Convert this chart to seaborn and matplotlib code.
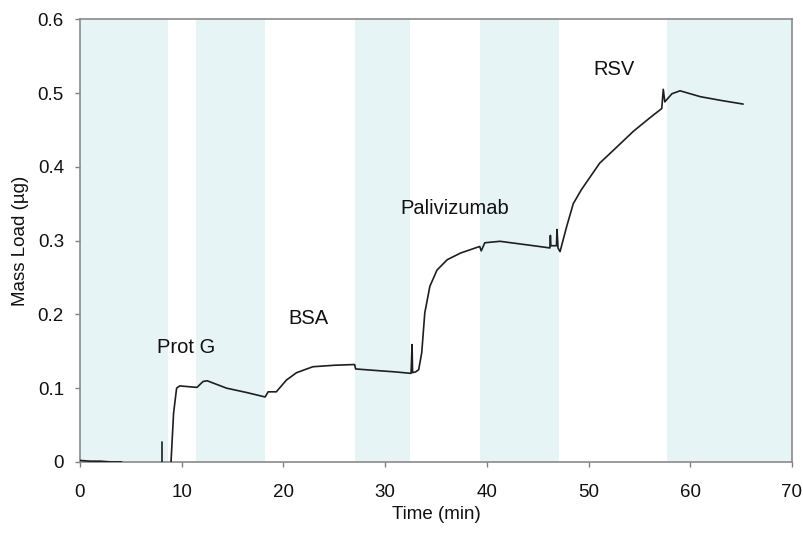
import matplotlib
matplotlib.use("Agg")
import matplotlib.pyplot as plt
import seaborn as sns
import pandas as pd

# --- data ---
base_x = [0.0, 1.0, 2.0, 3.0, 4.1]
base_y = [0.002, 0.001, 0.001, 0.0, 0.0]

spike_x = [8.1, 8.1]
spike_y = [0.0, 0.027]

main_x = [8.95, 9.2, 9.5, 9.8, 11.5, 12.1, 12.5, 14.4, 16.4, 18.2, 18.5, 19.3, 20.3,
          21.3, 22.9, 25.0, 27.0, 27.1, 29.0, 31.0, 32.55, 32.65, 32.7, 33.0, 33.3,
          33.6, 33.9, 34.4, 35.1, 36.1, 37.4, 39.3, 39.45, 39.8, 41.3, 44.6, 46.2,
          46.25, 46.3, 46.85, 46.9, 47.0, 47.2, 47.85, 48.5, 49.3, 51.1, 52.8, 54.4,
          56.0, 57.2, 57.35, 57.5, 58.2, 59.0, 61.0, 63.0, 65.2]
main_y = [0.0, 0.066, 0.100, 0.103, 0.101, 0.109, 0.110, 0.100, 0.094, 0.088, 0.095, 0.095, 0.111,
          0.121, 0.129, 0.131, 0.132, 0.126, 0.124, 0.122, 0.120, 0.159, 0.121, 0.122, 0.125,
          0.148, 0.202, 0.238, 0.260, 0.274, 0.283, 0.292, 0.286, 0.297, 0.299, 0.293, 0.290,
          0.307, 0.293, 0.293, 0.315, 0.290, 0.285, 0.319, 0.350, 0.369, 0.405, 0.427, 0.448,
          0.466, 0.479, 0.505, 0.488, 0.499, 0.503, 0.495, 0.490, 0.485]

band_starts = [0.0, 11.4, 27.0, 39.3, 57.7]
band_ends = [8.7, 18.2, 32.4, 47.1, 70.0]

labels = ["Prot G", "BSA", "Palivizumab", "RSV"]
label_x = [10.4, 22.5, 36.8, 52.5]
label_y = [0.155, 0.195, 0.344, 0.532]

x_ticks = [0, 10, 20, 30, 40, 50, 60, 70]
y_ticks = [0, 0.1, 0.2, 0.3, 0.4, 0.5, 0.6]
y_ticklabels = ["0", "0.1", "0.2", "0.3", "0.4", "0.5", "0.6"]

# --- build frame ---
df = pd.DataFrame({
    "x": base_x + spike_x + main_x,
    "y": base_y + spike_y + main_y,
    "seg": ["a"] * len(base_x) + ["b"] * len(spike_x) + ["c"] * len(main_x),
})

sns.set_theme(style="white")
plt.rcParams["font.family"] = ["Liberation Sans", "DejaVu Sans"]

fig = plt.figure(figsize=(8.04, 5.34), dpi=100)
ax = fig.add_axes([0.0995, 0.135, 0.8855, 0.829])

for s, e in zip(band_starts, band_ends):
    ax.axvspan(s, e, color="#e7f4f6", lw=0, zorder=0)

sns.lineplot(data=df, x="x", y="y", units="seg", estimator=None, sort=False,
             color="#1e1e1e", lw=1.2, ax=ax, zorder=3)

for t, lx, ly in zip(labels, label_x, label_y):
    ax.text(lx, ly, t, ha="center", va="center", fontsize=14.5, color="#111111")

ax.set_xlim(0, 70)
ax.set_ylim(0, 0.6)
ax.set_xticks(x_ticks)
ax.set_yticks(y_ticks)
ax.set_yticklabels(y_ticklabels)
ax.set_xlabel("Time (min)", fontsize=13.5, color="#111111", labelpad=4)
ax.set_ylabel("Mass Load (µg)", fontsize=13.5, color="#111111", labelpad=6)
ax.tick_params(axis="both", direction="out", length=3.6, width=1, color="#808080",
               labelsize=13.5, labelcolor="#111111", bottom=True, left=True)
ax.tick_params(axis="x", pad=12)
ax.tick_params(axis="y", pad=8)
for sp in ax.spines.values():
    sp.set_visible(True)
    sp.set_color("#8a8a8a")
    sp.set_linewidth(1.2)

fig.savefig("out.png", dpi=100)
